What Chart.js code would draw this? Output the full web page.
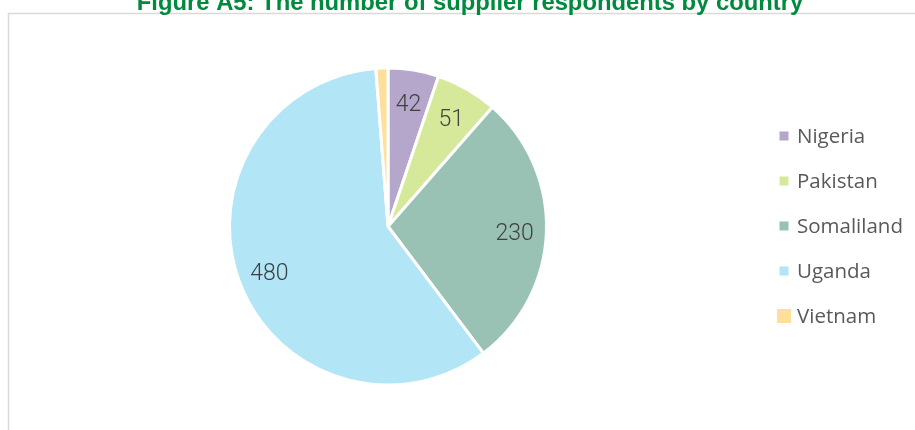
<!DOCTYPE html>
<html>
<head>
<meta charset="utf-8">
<script src="https://cdn.jsdelivr.net/npm/chart.js@4"></script>
<style>
  html, body { margin: 0; padding: 0; background: #fff; }
  #wrap { width: 915px; height: 430px; }
</style>
</head>
<body>
<div id="wrap"><canvas id="chartCountry" width="915" height="430"></canvas></div>
<script>
// ── Data ───────────────────────────────────────────────
const TITLE = 'Figure A5: The number of supplier respondents by country';
const COUNTRIES = ['Nigeria', 'Pakistan', 'Somaliland', 'Uganda', 'Vietnam'];
const RESPONDENTS = [42, 51, 230, 480, 10];
const SLICE_COLORS = ['#B5A6CC', '#D6E99B', '#99C2B4', '#B2E5F6', '#FFDF9B'];

// ── Frame + title (drawn on the canvas) ────────────────
const framePlugin = {
  id: 'frame',
  beforeDraw(chart) {
    const ctx = chart.ctx;
    ctx.save();
    ctx.fillStyle = '#fff';
    ctx.fillRect(0, 0, chart.width, chart.height);
    ctx.strokeStyle = '#D9D9D9';
    ctx.lineWidth = 1.5;
    ctx.strokeRect(8.5, 13.5, chart.width + 20, chart.height + 20);
    ctx.restore();
  },
  afterDraw(chart) {
    const ctx = chart.ctx;
    ctx.save();
    ctx.font = "bold 23.8px 'Liberation Sans', Arial, sans-serif";
    ctx.fillStyle = '#008A3E';
    ctx.textAlign = 'center';
    ctx.textBaseline = 'alphabetic';
    ctx.fillText(TITLE, 470, 10);
    ctx.restore();
  },
};

// ── Value labels inside the slices ─────────────────────
const LABEL_SIZE = 23;
const sliceLabels = {
  id: 'sliceLabels',
  afterDatasetsDraw(chart) {
    const ctx = chart.ctx;
    const meta = chart.getDatasetMeta(0);
    ctx.save();
    ctx.font = `300 ${LABEL_SIZE}px Roboto, Lato, sans-serif`;
    ctx.fillStyle = '#404040';
    ctx.textAlign = 'center';
    ctx.textBaseline = 'alphabetic';
    meta.data.forEach((arc, i) => {
      const v = RESPONDENTS[i];
      if (v < 20) return; // tiny slice has no label in the original
      const { x, y, startAngle, endAngle, outerRadius } =
        arc.getProps(['x', 'y', 'startAngle', 'endAngle', 'outerRadius'], true);
      const mid = (startAngle + endAngle) / 2;
      const r = outerRadius * 0.8;
      // centre the digits (not the em box) on the anchor point
      const digitHalf = LABEL_SIZE * 0.355;
      ctx.fillText(String(v), x + Math.cos(mid) * r, y + Math.sin(mid) * r + digitHalf + 1);
    });
    ctx.restore();
  },
};

// ── Legend on the right ────────────────────────────────
const sideLegend = {
  id: 'sideLegend',
  afterDraw(chart) {
    const ctx = chart.ctx;
    ctx.save();
    ctx.font = "20.5px 'Open Sans', sans-serif";
    ctx.textBaseline = 'middle';
    COUNTRIES.forEach((name, i) => {
      const cy = 136 + i * 45;
      const box = i === COUNTRIES.length - 1 ? 14 : 9;
      ctx.fillStyle = SLICE_COLORS[i];
      ctx.fillRect(784 - box / 2, cy - box / 2, box, box);
      ctx.fillStyle = '#595959';
      ctx.fillText(name, 797, cy + 1);
    });
    ctx.restore();
  },
};

const ctx = document.getElementById('chartCountry').getContext('2d');
new Chart(ctx, {
  type: 'pie',
  data: {
    labels: COUNTRIES,
    datasets: [{
      data: RESPONDENTS,
      backgroundColor: SLICE_COLORS,
      borderColor: '#fff',
      borderWidth: 3,
    }],
  },
  options: {
    responsive: false,
    animation: false,
    devicePixelRatio: 1,
    layout: { padding: { left: 228, right: 367, top: 66.5, bottom: 43.5 } },
    plugins: {
      legend: { display: false },
      tooltip: { enabled: false },
    },
  },
  plugins: [framePlugin, sliceLabels, sideLegend],
});
</script>
</body>
</html>
